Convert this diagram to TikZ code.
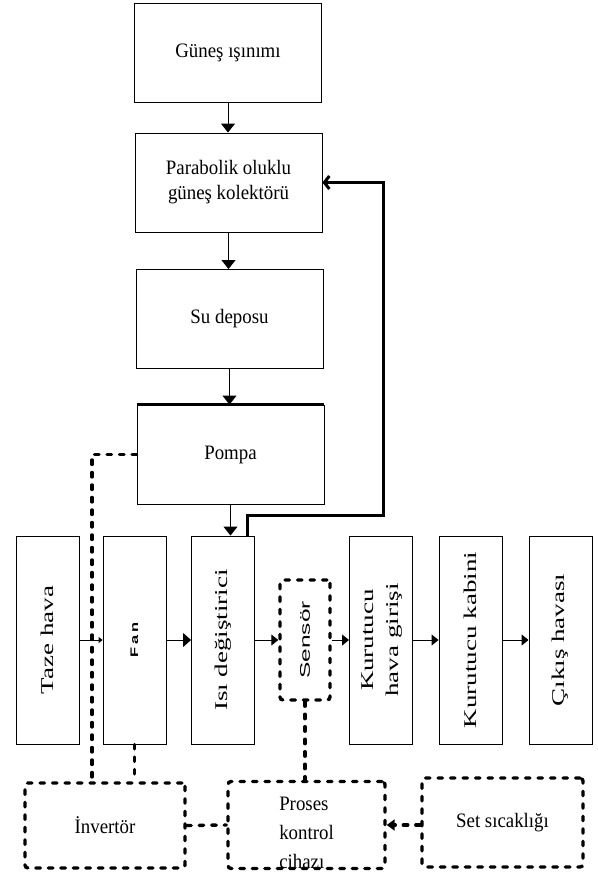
\documentclass[tikz,border=0pt]{standalone}
\usepackage{fontspec}
\setmainfont{Liberation Serif}
\setsansfont{Liberation Sans}
\newfontfamily\cond{Liberation Serif}[FakeStretch=0.92]
\usepackage{graphicx}
\usetikzlibrary{arrows.meta,calc,positioning}
\newcommand{\vtxt}[1]{\rotatebox{90}{\scalebox{1.5}[1]{#1}}}
\tikzset{
  blk/.style={draw,line width=0.9pt,minimum width=187pt,minimum height=99pt,inner sep=0pt,align=center,font=\cond\fontsize{20.5}{25}\selectfont},
  vblk/.style={draw,line width=0.9pt,minimum width=63pt,minimum height=208pt,inner sep=0pt,align=center,font=\fontsize{18}{25}\selectfont},
  dblk/.style={draw,line width=3.4pt,line cap=round,dash pattern=on 4.5pt off 8pt,rounded corners=3pt,inner sep=0pt,align=center,font=\cond\fontsize{20.5}{29}\selectfont},
  flw/.style={line width=0.9pt,-{Triangle[length=9pt,width=14pt]}},
  hflw/.style={line width=0.9pt,-{Triangle[length=7pt,width=11pt]}},
  dflw/.style={line width=3.4pt,line cap=round,dash pattern=on 4.5pt off 8pt},
  rflw/.style={line width=3pt,-{Straight Barb[length=5pt,width=13pt]}},
}
\begin{document}
\begin{tikzpicture}[x=1pt,y=-1pt]
  \useasboundingbox (0,0) rectangle (597,878);
  % ---------- solar side ----------
  \node[blk] (gunes) at (228,52.5) {Güneş ışınımı};
  \node[blk] (kolektor) at (228.5,182.5) {Parabolik oluklu\\güneş kolektörü};
  \node[blk] (depo) at (229.5,319) {Su deposu};
  \node[blk] (pompa) at (230.5,454.5) {Pompa};
  \draw[line width=2.6pt] (pompa.north west) -- (pompa.north east);
  \draw[flw] (gunes.south) -- (gunes.south |- kolektor.north);
  \draw[flw] (kolektor.south) -- (kolektor.south |- depo.north);
  \draw[flw] (depo.south) -- (depo.south |- pompa.north);
  % ---------- air line ----------
  \node[vblk] (taze) at (47.5,640) {\vtxt{Taze hava}};
  \node[vblk] (fan) at (134.5,640) {\rotatebox{90}{\sffamily\bfseries\fontsize{11}{13}\selectfont\scalebox{1.5}[1]{F\hspace{2pt}a\hspace{2pt}n}}};
  \node[vblk] (isi) at (223,640) {\vtxt{Isı değiştirici}};
  \node[dblk,minimum width=50pt,minimum height=120pt] (sensor) at (305,640)
    {\rotatebox{90}{\sffamily\fontsize{14}{16}\selectfont\scalebox{1.75}[1]{Sensör}}};
  \node[vblk] (kgiris) at (381,640) {\vtxt{\begin{tabular}{@{}c@{}}Kurutucu\\hava girişi\end{tabular}}};
  \node[vblk] (kabin) at (470.5,640) {\vtxt{Kurutucu kabini}};
  \node[vblk] (cikis) at (560.5,640) {\vtxt{Çıkış havası}};
  \draw[flw] (pompa.south) -- (pompa.south |- isi.north);
  \draw[line width=0.9pt,-{Triangle[length=4pt,width=6pt]}] (taze) -- (fan);
  \draw[line width=0.9pt,-{Triangle[length=8pt,width=14pt]}] (fan) -- (isi);
  \draw[hflw] (isi) -- (sensor);
  \draw[hflw] (sensor) -- (kgiris);
  \draw[hflw] (kgiris) -- (kabin);
  \draw[hflw] (kabin) -- (cikis);
  % ---------- hot water back to the collector ----------
  \coordinate (donus) at (383,515);
  \draw[rflw] ([xshift=24pt]isi.north) |- (donus) |- (kolektor.east);
  % ---------- control ----------
  \node[dblk,minimum width=160pt,minimum height=85pt] (invertor) at (105,825.5) {İnvertör};
  \node[dblk,minimum width=157pt,minimum height=84pt] (proses) at (306.5,825)
    {\raisebox{-9pt}[\height][\depth]{\begin{tabular}{@{}l@{}}Proses\\kontrol\\cihazı\end{tabular}}};
  \node[dblk,minimum width=161pt,minimum height=89pt] (setsic) at (502.5,822.5) {Set sıcaklığı};
  \draw[dflw] (pompa.west) -| ($(invertor.north)+(-13,0)$);
  \draw[dflw] (fan.south) -- (fan.south |- invertor.north);
  \draw[dflw] (sensor.south) -- (sensor.south |- proses.north);
  \draw[dflw] (invertor.east) -- (proses.west);
  \draw[dflw,-{Triangle[length=8pt,width=11pt]}] (setsic.west |- proses.east) -- (proses.east);
\end{tikzpicture}
\end{document}
